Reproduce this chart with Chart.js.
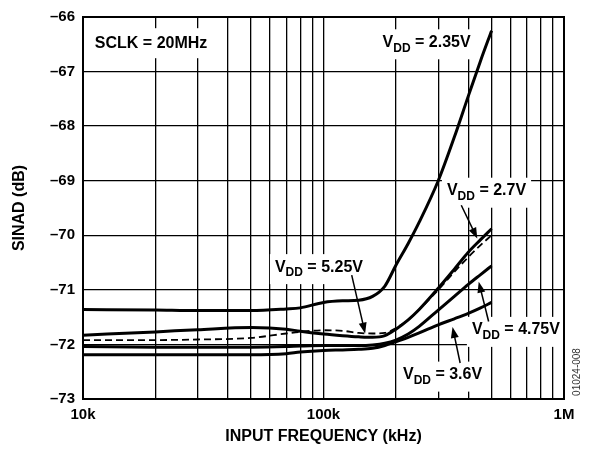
<!DOCTYPE html>
<html>
<head>
<meta charset="utf-8">
<script src="https://cdn.jsdelivr.net/npm/chart.js@4/dist/chart.umd.min.js"></script>
<style>
  html, body { margin: 0; padding: 0; background: #fff; }
  #wrap { width: 589px; height: 451px; }
</style>
</head>
<body>
<div id="wrap"><canvas id="chart-sinad"></canvas></div>
<script>
// input frequency (Hz)
var freq = [10000, 20000, 30000, 50000, 70000, 80000, 100000, 120000, 140000, 160000,
            180000, 200000, 225000, 250000, 300000, 350000, 400000, 450000, 500000];

// SINAD (dB) per supply voltage
var vdd235 = [-71.36, -71.37, -71.38, -71.38, -71.35, -71.33, -71.23, -71.20, -71.19, -71.12,
              -70.93, -70.55, -70.15, -69.76, -69.0, -68.2, -67.45, -66.8, -66.25];
var vdd27  = [-71.92, -71.92, -71.91, -71.88, -71.80, -71.77, -71.74, -71.75, -71.79, -71.80,
              -71.79, -71.70, -71.55, -71.36, -71.0, -70.67, -70.4, -70.18, -70.0];
var vdd525 = [-71.83, -71.77, -71.73, -71.69, -71.72, -71.76, -71.81, -71.84, -71.86, -71.87,
              -71.84, -71.72, -71.55, -71.36, -70.97, -70.62, -70.31, -70.08, -69.88];
var vdd475 = [-72.04, -72.05, -72.05, -72.05, -72.04, -72.03, -72.02, -72.02, -72.02, -72.01,
              -71.98, -71.92, -71.81, -71.67, -71.37, -71.12, -70.9, -70.72, -70.56];
var vdd36  = [-72.19, -72.19, -72.19, -72.19, -72.17, -72.14, -72.11, -72.10, -72.09, -72.07,
              -72.02, -71.95, -71.87, -71.79, -71.64, -71.53, -71.43, -71.33, -71.23];

// axes
var xGrid = [10000, 20000, 30000, 40000, 50000, 60000, 70000, 80000, 90000,
             100000, 200000, 300000, 400000, 500000, 600000, 700000, 800000, 900000, 1000000];
var xTickValues = [10000, 100000, 1000000];
var xTickLabels = ["10k", "100k", "1M"];
var yMin = -73, yMax = -66;

// callouts: label anchor (left, middle) and arrow tail -> head, in data units
var callouts = [
  { sub: "DD", text: " = 2.35V", at: [176000, -66.5] },
  { sub: "DD", text: " = 2.7V", at: [326000, -69.22], arrow: [[374000, -69.45], [436000, -70.06]] },
  { sub: "DD", text: " = 5.25V", at: [62800, -70.62], arrow: [[131000, -70.73], [149000, -71.8]] },
  { sub: "DD", text: " = 4.75V", at: [414000, -71.77], arrow: [[486000, -71.58], [442000, -70.85]] },
  { sub: "DD", text: " = 3.6V", at: [214000, -72.59], arrow: [[370000, -72.34], [344000, -71.68]] }
];
var sclkLabel = { text: "SCLK = 20MHz", at: [11200, -66.48] };

function pts(vals) {
  return freq.map(function (f, i) { return { x: f, y: vals[i] }; });
}

var FONT = "'Liberation Sans', Arial, Helvetica, sans-serif";

function arrow(ctx, x1, y1, x2, y2) {
  var a = Math.atan2(y2 - y1, x2 - x1), L = 11, W = 4;
  ctx.beginPath();
  ctx.moveTo(x1, y1);
  ctx.lineTo(x2 - L * Math.cos(a) * 0.8, y2 - L * Math.sin(a) * 0.8);
  ctx.lineWidth = 1.5;
  ctx.stroke();
  ctx.beginPath();
  ctx.moveTo(x2, y2);
  ctx.lineTo(x2 - L * Math.cos(a) + W * Math.sin(a), y2 - L * Math.sin(a) - W * Math.cos(a));
  ctx.lineTo(x2 - L * Math.cos(a) - W * Math.sin(a), y2 - L * Math.sin(a) + W * Math.cos(a));
  ctx.closePath();
  ctx.fill();
}

var labelsPlugin = {
  id: "labels",
  beforeDatasetsDraw: function (chart) {
    var ctx = chart.ctx, xs = chart.scales.x, ys = chart.scales.y;
    ctx.save();
    ctx.textBaseline = "middle";
    ctx.textAlign = "left";

    // SCLK box
    ctx.font = "bold 16px " + FONT;
    var sx = xs.getPixelForValue(sclkLabel.at[0]), sy = ys.getPixelForValue(sclkLabel.at[1]);
    var sw = ctx.measureText(sclkLabel.text).width;
    ctx.fillStyle = "#fff";
    ctx.fillRect(sx - 6, sy - 15, sw + 12, 30);
    ctx.fillStyle = "#000";
    ctx.fillText(sclkLabel.text, sx, sy);

    callouts.forEach(function (c) {
      var x = xs.getPixelForValue(c.at[0]), y = ys.getPixelForValue(c.at[1]);
      ctx.font = "bold 16px " + FONT;
      var w1 = ctx.measureText("V").width, w3 = ctx.measureText(c.text).width;
      ctx.font = "bold 12px " + FONT;
      var w2 = ctx.measureText(c.sub).width;
      ctx.fillStyle = "#fff";
      ctx.fillRect(x - 5, y - 15, w1 + w2 + w3 + 10, 30);
      ctx.fillStyle = "#000";
      ctx.font = "bold 16px " + FONT;
      ctx.fillText("V", x, y - 2);
      ctx.fillText(c.text, x + w1 + w2, y - 2);
      ctx.font = "bold 12px " + FONT;
      ctx.fillText(c.sub, x + w1, y + 4);
    });
    ctx.restore();
  },
  afterDatasetsDraw: function (chart) {
    var ctx = chart.ctx, xs = chart.scales.x, ys = chart.scales.y, a = chart.chartArea;
    ctx.save();
    ctx.strokeStyle = "#000";
    ctx.fillStyle = "#000";
    callouts.forEach(function (c) {
      if (!c.arrow) return;
      arrow(ctx,
        xs.getPixelForValue(c.arrow[0][0]), ys.getPixelForValue(c.arrow[0][1]),
        xs.getPixelForValue(c.arrow[1][0]), ys.getPixelForValue(c.arrow[1][1]));
    });
    // plot frame
    ctx.lineWidth = 2;
    ctx.strokeRect(a.left, a.top, a.right - a.left, a.bottom - a.top);
    // figure code
    ctx.translate(a.right + 13, 372);
    ctx.rotate(-Math.PI / 2);
    ctx.font = "10px " + FONT;
    ctx.textAlign = "center";
    ctx.textBaseline = "middle";
    ctx.fillStyle = "#333";
    ctx.fillText("01024-008", 0, 0);
    ctx.restore();
  }
};

function series(label, vals, dashed) {
  return {
    label: label,
    data: pts(vals),
    borderColor: "#000",
    borderWidth: dashed ? 1.8 : 3,
    borderDash: dashed ? [7, 4] : [],
    pointRadius: 0,
    fill: false,
    cubicInterpolationMode: "monotone"
  };
}

new Chart(document.getElementById("chart-sinad"), {
  type: "line",
  data: {
    datasets: [
      series("VDD = 2.35V", vdd235),
      series("VDD = 2.7V", vdd27, true),
      series("VDD = 5.25V", vdd525),
      series("VDD = 4.75V", vdd475),
      series("VDD = 3.6V", vdd36)
    ]
  },
  options: {
    responsive: true,
    maintainAspectRatio: false,
    animation: false,
    layout: { padding: { left: 0, right: 25, top: 15, bottom: 0 } },
    plugins: { legend: { display: false }, tooltip: { enabled: false } },
    scales: {
      x: {
        type: "logarithmic",
        min: 10000,
        max: 1000000,
        afterBuildTicks: function (scale) {
          scale.ticks = xGrid.map(function (v) { return { value: v }; });
        },
        afterFit: function (scale) { scale.height = 52; },
        grid: { color: "#000", lineWidth: 1.3, drawTicks: false },
        border: { display: false },
        ticks: {
          autoSkip: false,
          maxRotation: 0,
          padding: 7,
          color: "#000",
          font: { family: FONT, size: 15, weight: "bold" },
          callback: function (v) {
            var i = xTickValues.indexOf(v);
            return i >= 0 ? xTickLabels[i] : "";
          }
        },
        title: {
          display: true,
          text: "INPUT FREQUENCY (kHz)",
          color: "#000",
          padding: { top: 0, bottom: 5 },
          font: { family: FONT, size: 16, weight: "bold" }
        }
      },
      y: {
        min: yMin,
        max: yMax,
        afterFit: function (scale) { scale.width = 83; },
        grid: { color: "#000", lineWidth: 1.3, drawTicks: false },
        border: { display: false },
        ticks: {
          stepSize: 1,
          padding: 8,
          color: "#000",
          font: { family: FONT, size: 15, weight: "bold" },
          callback: function (v) { return "\u2013" + Math.abs(v); }
        },
        title: {
          display: true,
          text: "SINAD (dB)",
          color: "#000",
          padding: { top: 10, bottom: 0 },
          font: { family: FONT, size: 16, weight: "bold" }
        }
      }
    }
  },
  plugins: [labelsPlugin]
});
</script>
</body>
</html>
